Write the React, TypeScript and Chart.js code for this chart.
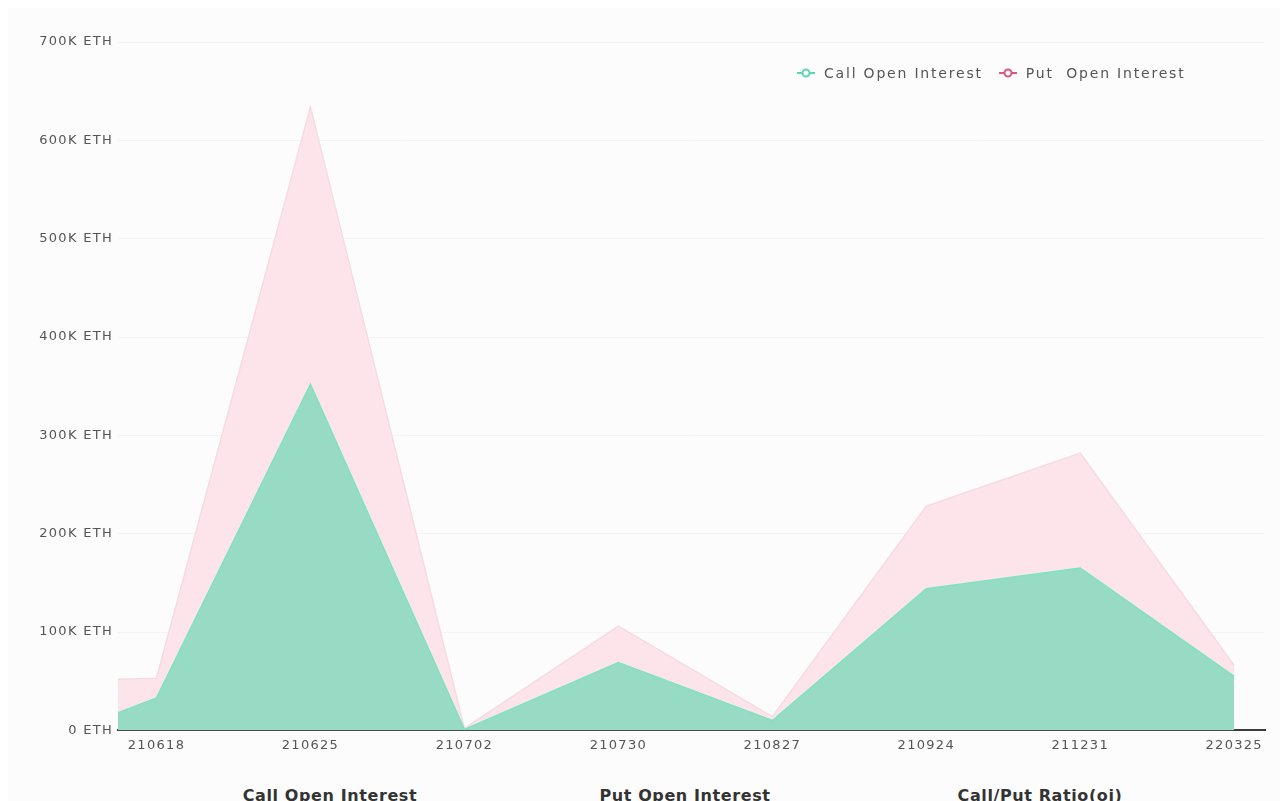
import React, { useEffect, useRef } from "react";
import { Chart, registerables } from "chart.js";

Chart.register(...registerables);

// Expiry dates (first one is the near daily expiry, drawn just left of 210618)
const expiries = ["210617", "210618", "210625", "210702", "210730", "210827", "210924", "211231", "220325"];
// Position of each expiry along the x axis (axis index units)
const expiryAxisPos = [-0.25, 0, 1, 2, 3, 4, 5, 6, 7];
// Open interest in ETH
const callOpenInterest = [18000, 33000, 352000, 1000, 69000, 10000, 144000, 165000, 55000];
const putOpenInterest = [34000, 20000, 282000, 1000, 37000, 4000, 84000, 117000, 11000];
// Y axis ticks
const yTickValues = [0, 100000, 200000, 300000, 400000, 500000, 600000, 700000];
const bottomHeaders = ["Call Open Interest", "Put Open Interest", "Call/Put Ratio(oi)"];

const GREEN_FILL = "#97dbc5";
const GREEN_LINE = "#7fe3c2";
const PINK_FILL = "#fde4eb";
const PINK_LINE = "#f6dbe3";

const spacingPlugin = {
  id: "letterSpacing",
  beforeInit(c: any) { c.ctx.letterSpacing = "1.3px"; },
  beforeUpdate(c: any) { c.ctx.letterSpacing = "1.3px"; },
  beforeDraw(c: any) { c.ctx.letterSpacing = "1.3px"; },
};

function Marker({ color }: { color: string }) {
  return (
    <svg width="18" height="10" style={{ marginRight: 9, verticalAlign: "middle" }}>
      <line x1="0" y1="5" x2="18" y2="5" stroke={color} strokeWidth="2" />
      <circle cx="9" cy="5" r="3.5" fill="#fff" stroke={color} strokeWidth="2" />
    </svg>
  );
}

export default function App() {
  const ref = useRef<HTMLCanvasElement>(null);

  useEffect(() => {
    if (!ref.current) return;
    const chart = new Chart(ref.current, {
      type: "line",
      data: {
        datasets: [
          {
            label: "Call Open Interest",
            data: expiryAxisPos.map((x, i) => ({ x, y: callOpenInterest[i] })),
            backgroundColor: GREEN_FILL,
            borderColor: GREEN_LINE,
            borderWidth: 1.5,
            pointRadius: 0,
            fill: "origin",
            tension: 0,
          },
          {
            label: "Put  Open Interest",
            data: expiryAxisPos.map((x, i) => ({ x, y: putOpenInterest[i] })),
            backgroundColor: PINK_FILL,
            borderColor: PINK_LINE,
            borderWidth: 1.5,
            pointRadius: 0,
            fill: "-1",
            tension: 0,
          },
        ],
      },
      options: {
        animation: false,
        responsive: false,
        maintainAspectRatio: false,
        layout: { padding: { left: 0, right: 15, top: 42, bottom: 10 } },
        plugins: { legend: { display: false }, tooltip: { enabled: false } },
        scales: {
          x: {
            type: "linear",
            min: -0.25,
            max: 7.2,
            grid: { display: false, drawTicks: false },
            border: { display: true, color: "#3a3a3a", width: 2 },
            afterBuildTicks: (scale: any) => {
              scale.ticks = expiryAxisPos.filter((v) => v >= 0).map((v) => ({ value: v }));
            },
            ticks: {
              autoSkip: false,
              maxRotation: 0,
              padding: 7,
              color: "#555",
              font: { family: "'DejaVu Sans'", size: 13 },
              callback: (v: any) => {
                const i = expiryAxisPos.indexOf(Number(v));
                return i >= 0 ? expiries[i] : "";
              },
            },
          },
          y: {
            stacked: true,
            min: 0,
            max: 700000,
            afterFit: (scale: any) => { scale.width = 118; },
            afterBuildTicks: (scale: any) => {
              scale.ticks = yTickValues.map((v) => ({ value: v }));
            },
            grid: { color: "rgba(0,0,0,0.03)", drawTicks: false },
            border: { display: false },
            ticks: {
              padding: 5,
              color: "#555",
              font: { family: "'DejaVu Sans'", size: 13 },
              callback: (v: any) => (Number(v) === 0 ? "0 ETH" : `${Number(v) / 1000}K ETH`),
            },
          },
        },
      },
      plugins: [spacingPlugin],
    });
    return () => chart.destroy();
  }, []);

  return (
    <div style={{ position: "absolute", left: 0, top: 0, width: 1280, height: 801, background: "#fff", overflow: "hidden" }}>
      <div style={{ position: "absolute", left: 8, top: 8, width: 1272, height: 793, background: "#fcfcfc" }} />
      <canvas ref={ref} width={1280} height={770} style={{ position: "absolute", left: 0, top: 0, width: 1280, height: 770 }} />
      <div
        style={{
          position: "absolute",
          top: 65,
          left: 797,
          display: "flex",
          alignItems: "center",
          fontFamily: "'DejaVu Sans', sans-serif",
          fontSize: 14,
          letterSpacing: "1.8px",
          color: "#555",
          whiteSpace: "pre",
        }}
      >
        <Marker color="#5fd6b1" />
        <span style={{ marginRight: 16 }}>Call Open Interest</span>
        <Marker color="#e0557d" />
        <span>Put  Open Interest</span>
      </div>
      {bottomHeaders.map((h, i) => (
        <div
          key={h}
          style={{
            position: "absolute",
            top: 786,
            left: 330 + i * 355 - 150,
            width: 300,
            textAlign: "center",
            fontFamily: "'DejaVu Sans', sans-serif",
            fontWeight: "bold",
            fontSize: 16,
            letterSpacing: "0.6px",
            color: "#333",
          }}
        >
          {h}
        </div>
      ))}
    </div>
  );
}
